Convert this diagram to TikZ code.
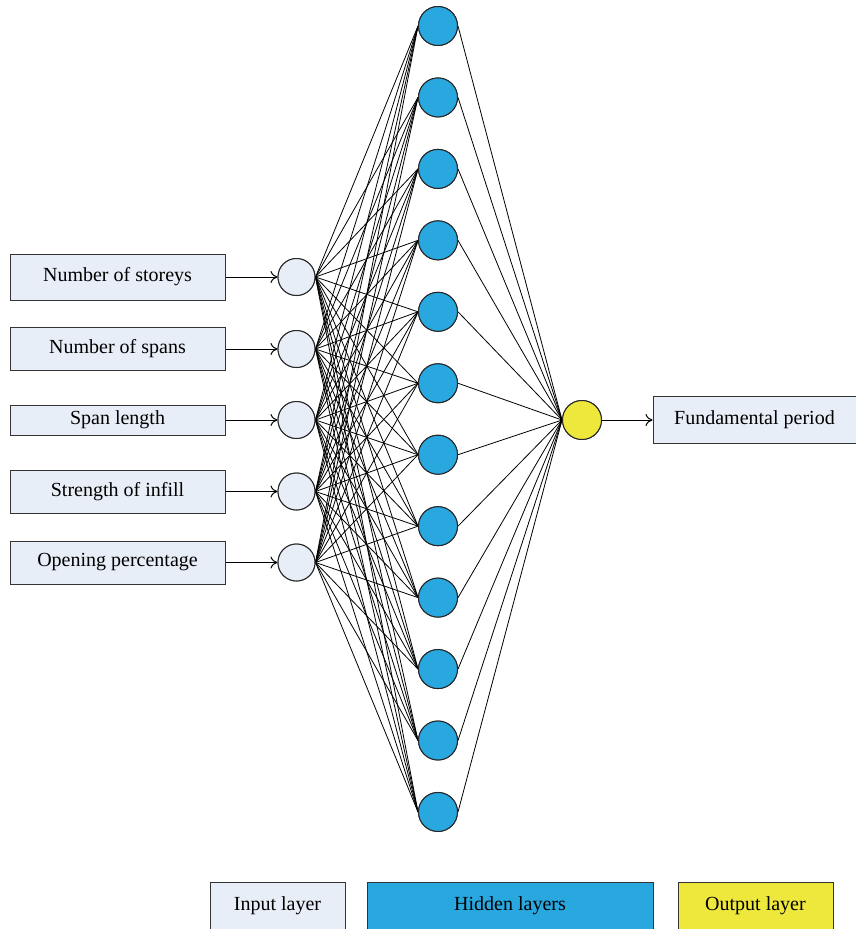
\documentclass[tikz,border=0pt]{standalone}
\usepackage{fontspec}
\setmainfont{Liberation Serif}
\usetikzlibrary{arrows.meta}
\definecolor{inpfill}{HTML}{E8EEF7}
\definecolor{hidfill}{HTML}{29A8E0}
\definecolor{outfill}{HTML}{EEE83C}
\begin{document}
\begin{tikzpicture}[x=1pt,y=-1pt,
  txt/.style={font=\fontsize{20}{24}\selectfont},
  inbox/.style={draw=black!80,fill=inpfill,line width=1pt,minimum width=215pt,inner sep=0pt,txt},
  incirc/.style={circle,draw=black!85,fill=inpfill,line width=1pt,minimum size=37pt,inner sep=0pt},
  hidcirc/.style={circle,draw=black!85,fill=hidfill,line width=1pt,minimum size=39pt,inner sep=0pt},
  outcirc/.style={circle,draw=black!85,fill=outfill,line width=1pt,minimum size=39pt,inner sep=0pt},
  conn/.style={line width=0.8pt,black},
  arr/.style={line width=1pt,-{To[length=7pt,width=12pt]}},
  legbox/.style={draw=black!80,line width=1pt,inner sep=0pt,txt}]
\useasboundingbox (0,0) rectangle (856,929);
% input boxes
\node[inbox,minimum height=46pt] (b1) at (117.5,277) {Number of storeys};
\node[inbox,minimum height=43pt] (b2) at (117.5,349) {Number of spans};
\node[inbox,minimum height=30pt] (b3) at (117.5,420) {Span length};
\node[inbox,minimum height=43pt] (b4) at (117.5,491.5) {Strength of infill};
\node[inbox,minimum height=43pt] (b5) at (117.5,562.5) {Opening percentage};
% input circles
\foreach \i/\y in {1/277,2/349,3/420,4/491.5,5/562.5}{
  \node[incirc] (i\i) at (296.5,\y) {};
}
% hidden circles
\foreach \j in {1,...,12}{
  \node[hidcirc] (h\j) at (438,{26+(\j-1)*71.45}) {};
}
% output
\node[outcirc] (o) at (582,420) {};
\node[draw=black!80,fill=inpfill,line width=1pt,minimum width=203pt,minimum height=47pt,inner sep=0pt,txt] (ob) at (754.5,420) {Fundamental period};
% connections
\foreach \i in {1,...,5}{
  \foreach \j in {1,...,12}{
    \draw[conn] (i\i.east) -- (h\j.west);
  }
}
\foreach \j in {1,...,12}{
  \draw[conn] (h\j.east) -- (o.west);
}
% redraw nodes on top
\foreach \i/\y in {1/277,2/349,3/420,4/491.5,5/562.5}{
  \node[incirc] at (296.5,\y) {};
}
\foreach \j in {1,...,12}{
  \node[hidcirc] at (438,{26+(\j-1)*71.45}) {};
}
\node[outcirc] at (582,420) {};
% arrows
\foreach \i in {1,...,5}{
  \draw[arr] (b\i.east) -- (i\i.west);
}
\draw[arr] (o.east) -- (ob.west);
% legend
\node[legbox,fill=inpfill,minimum width=135pt,minimum height=48pt] (l1) at (277.5,906) {Input layer};
\node[legbox,fill=hidfill,minimum width=286pt,minimum height=48pt] (l2) at (510,906) {Hidden layers};
\node[legbox,fill=outfill,minimum width=155pt,minimum height=48pt] (l3) at (755.5,906) {Output layer};
\end{tikzpicture}
\end{document}
